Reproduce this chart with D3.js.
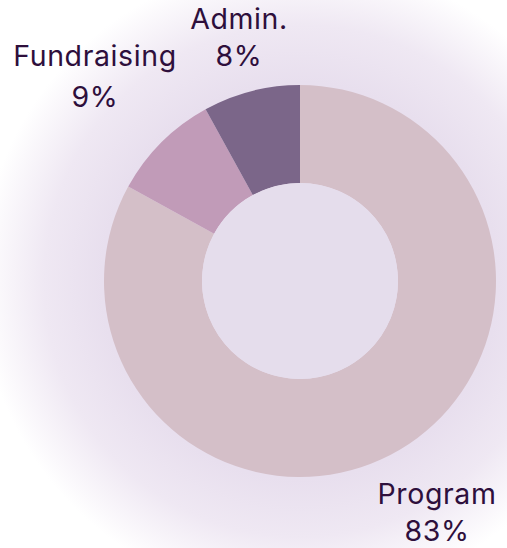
<!DOCTYPE html>
<html>
<head>
<meta charset="utf-8">
<script src="https://cdn.jsdelivr.net/npm/d3@7"></script>
<style>
  html, body { margin: 0; padding: 0; background: #fff; }
</style>
</head>
<body>
<div id="chart"></div>
<script>
// Data
const categories = ["Program", "Fundraising", "Admin."];
const shares = [83, 9, 8];
const sliceColors = ["#d4bfc8", "#c19bb8", "#7b6689"];

// Canvas
const width = 507, height = 548;
const cx = 300, cy = 281;
const outerR = 196, innerR = 98;

const svg = d3.select("#chart")
    .append("svg")
    .attr("width", width)
    .attr("height", height);

// soft glow behind the donut
const defs = svg.append("defs");
const glow = defs.append("radialGradient")
    .attr("id", "glow")
    .attr("gradientUnits", "userSpaceOnUse")
    .attr("cx", cx).attr("cy", cy).attr("r", 320);
glow.append("stop").attr("offset", 0).attr("stop-color", "#e7ddee");
glow.append("stop").attr("offset", 0.62).attr("stop-color", "#e8dfee");
glow.append("stop").attr("offset", 0.8).attr("stop-color", "#efe8f3");
glow.append("stop").attr("offset", 0.95).attr("stop-color", "#fbf9fc");
glow.append("stop").attr("offset", 1).attr("stop-color", "#ffffff");

svg.append("rect")
    .attr("width", width)
    .attr("height", height)
    .attr("fill", "url(#glow)");

const g = svg.append("g")
    .attr("transform", `translate(${cx},${cy})`);

const color = d3.scaleOrdinal().domain(categories).range(sliceColors);

const pie = d3.pie().sort(null).value(d => d.value);
const arc = d3.arc().innerRadius(innerR).outerRadius(outerR);

const pieData = pie(categories.map((c, i) => ({ name: c, value: shares[i] })));

g.selectAll(".slice")
    .data(pieData)
    .enter()
    .append("path")
    .attr("class", "slice")
    .attr("d", arc)
    .attr("fill", d => color(d.data.name));

// center hole
g.append("circle")
    .attr("r", innerR)
    .attr("fill", "#e5ddec");

// Labels (placed outside the ring)
const labelPos = {
    "Program": [437, 504, 541],
    "Fundraising": [95, 66, 107],
    "Admin.": [239, 29, 66]
};

const labels = svg.selectAll(".lbl")
    .data(pieData)
    .enter()
    .append("g")
    .attr("class", "lbl")
    .attr("fill", "#2e0f3c")
    .attr("font-family", "Inter, 'Noto Sans', sans-serif")
    .attr("font-size", 28.5)
    .attr("letter-spacing", 0.6)
    .attr("text-anchor", "middle");

labels.append("text")
    .attr("x", d => labelPos[d.data.name][0])
    .attr("y", d => labelPos[d.data.name][1])
    .text(d => d.data.name);

labels.append("text")
    .attr("x", d => labelPos[d.data.name][0])
    .attr("y", d => labelPos[d.data.name][2])
    .text(d => d.data.value + "%");
</script>
</body>
</html>
